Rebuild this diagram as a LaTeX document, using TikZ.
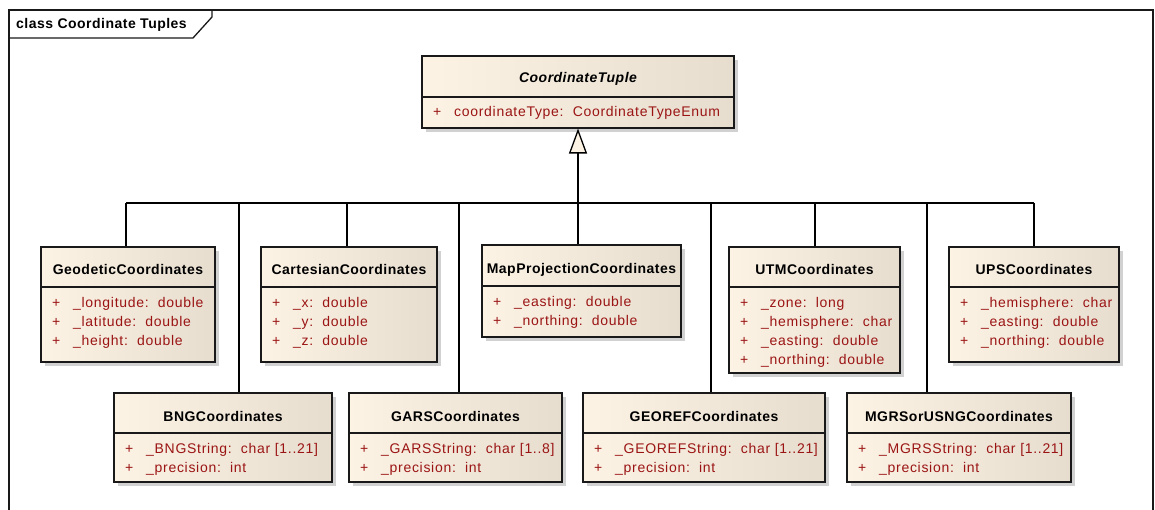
\documentclass[tikz,border=0pt]{standalone}
\usepackage{fontspec}
\setmainfont{Liberation Sans}
\newfontfamily\attrfont[LetterSpace=5]{Liberation Sans}
\newfontfamily\headfont[LetterSpace=3.5]{Liberation Sans}
\usetikzlibrary{arrows.meta,shadows}
\definecolor{fillL}{RGB}{252,243,228}
\definecolor{fillR}{RGB}{230,221,207}
\definecolor{attrred}{RGB}{155,20,20}
\definecolor{edgecol}{RGB}{25,25,25}
\tikzset{
  classbox/.style={draw=edgecol, line width=1.1pt, left color=fillL, right color=fillR,
    inner sep=0pt, drop shadow={shadow xshift=4pt, shadow yshift=-4pt, fill=black!18, opacity=1}},
  divider/.style={draw=edgecol, line width=1.1pt},
  titletext/.style={inner sep=0pt, font=\headfont\bfseries\fontsize{14}{16}\selectfont},
  attrtext/.style={inner sep=0pt, text=attrred, font=\attrfont\fontsize{14}{19}\selectfont},
  conn/.style={draw=black, line width=1.3pt},
  framebox/.style={draw=edgecol, line width=1.3pt},
}
\newcommand\attrrow[1]{\makebox[21pt][l]{+}#1}
% #1 name, #2 x1, #3 y1, #4 x2, #5 y2, #6 divider y, #7 title, #8 rows, #9 title baseline offset
\newcommand\umlclass[9]{%
  \node[classbox, minimum width={#4-#2}, minimum height={#5-#3}] (#1) at ({(#2+#4)/2},{(#3+#5)/2}) {};
  \draw[divider] (#2,#6) -- (#4,#6);
  \node[titletext, anchor=base] (#1-title) at ({(#2+#4)/2},{#3+#9}) {#7};
  \node[attrtext, anchor=base west] (#1-attrs) at ({#2+11},{#6+20}) {\begin{tabular}[t]{@{}l@{}}#8\end{tabular}};
}
\begin{document}
\begin{tikzpicture}[x=1pt,y=-1pt]
\useasboundingbox (0,0) rectangle (1155,510);
% frame
\draw[framebox] (9,512) -- (9,10) -- (1153,10) -- (1153,512);
\draw[framebox] (9,38) -- (193,38) -- (212,17) -- (212,10);
\node[anchor=base west, inner sep=0pt, font=\headfont\bfseries\fontsize{14}{16}\selectfont] (frametitle) at (16,28.5) {class Coordinate Tuples};

% classes
\umlclass{tuple}{422}{56}{734}{128}{97}{\itshape CoordinateTuple}{\attrrow{coordinateType:\ \ CoordinateTypeEnum}}{26.7}
\umlclass{geo}{41}{247}{215}{362}{287}{GeodeticCoordinates}{\attrrow{\_longitude:\ \ double}\\ \attrrow{\_latitude:\ \ double}\\ \attrrow{\_height:\ \ double}}{28}
\umlclass{cart}{261}{247}{437}{362}{287}{CartesianCoordinates}{\attrrow{\_x:\ \ double}\\ \attrrow{\_y:\ \ double}\\ \attrrow{\_z:\ \ double}}{28}
\umlclass{map}{482}{245}{681}{337}{286}{MapProjectionCoordinates}{\attrrow{\_easting:\ \ double}\\ \attrrow{\_northing:\ \ double}}{28}
\umlclass{utm}{729}{247}{900}{373}{287}{UTMCoordinates}{\attrrow{\_zone:\ \ long}\\ \attrrow{\_hemisphere:\ \ char}\\ \attrrow{\_easting:\ \ double}\\ \attrrow{\_northing:\ \ double}}{28}
\umlclass{ups}{949}{247}{1119}{362}{287}{UPSCoordinates}{\attrrow{\_hemisphere:\ \ char}\\ \attrrow{\_easting:\ \ double}\\ \attrrow{\_northing:\ \ double}}{28}
\umlclass{bng}{114}{393}{332}{482}{433}{BNGCoordinates}{\attrrow{\_BNGString:\ \ char [1..21]}\\ \attrrow{\_precision:\ \ int}}{28.5}
\umlclass{gars}{349}{393}{562}{482}{433}{GARSCoordinates}{\attrrow{\_GARSString:\ \ char [1..8]}\\ \attrrow{\_precision:\ \ int}}{28.5}
\umlclass{georef}{583}{393}{825}{482}{433}{GEOREFCoordinates}{\attrrow{\_GEOREFString:\ \ char [1..21]}\\ \attrrow{\_precision:\ \ int}}{28.5}
\umlclass{mgrs}{847}{393}{1071}{482}{433}{MGRSorUSNGCoordinates}{\attrrow{\_MGRSString:\ \ char [1..21]}\\ \attrrow{\_precision:\ \ int}}{28.5}

% generalization bus
\coordinate (busL) at (126,203);
\coordinate (busR) at (1034,203);
\coordinate (busM) at (578,203);
\coordinate (cGeo) at (126,203);
\coordinate (cBng) at (239,203);
\coordinate (cCart) at (347,203);
\coordinate (cGars) at (459,203);
\coordinate (cGeoref) at (711,203);
\coordinate (cUtm) at (815,203);
\coordinate (cMgrs) at (927,203);
\coordinate (cUps) at (1034,203);
\draw[conn] (busL) -- (busR);
\draw[conn] (cGeo) -- (geo.north -| cGeo);
\draw[conn] (cBng) -- (bng.north -| cBng);
\draw[conn] (cCart) -- (cart.north -| cCart);
\draw[conn] (cGars) -- (gars.north -| cGars);
\draw[conn] (busM) -- (map.north -| busM);
\draw[conn] (cGeoref) -- (georef.north -| cGeoref);
\draw[conn] (cUtm) -- (utm.north -| cUtm);
\draw[conn] (cMgrs) -- (mgrs.north -| cMgrs);
\draw[conn] (cUps) -- (ups.north -| cUps);
\draw[conn, -{Triangle[length=25pt,width=18pt,fill=fillL]}] (busM) -- (tuple.south);
\end{tikzpicture}
\end{document}
